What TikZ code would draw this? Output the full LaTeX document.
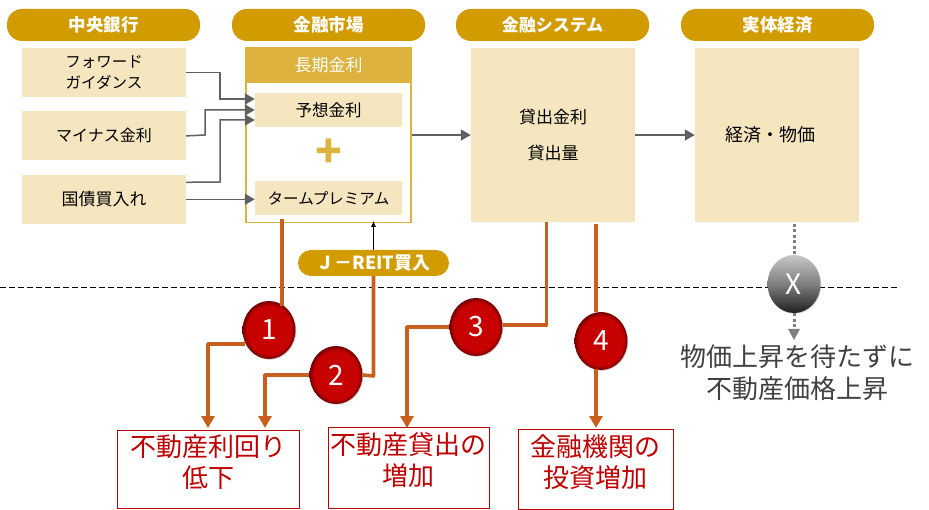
\documentclass[tikz,border=0pt]{standalone}
\usepackage{fontspec}
\setmainfont{Noto Sans CJK JP}
\usepackage{xcolor}
\usepackage{tikz}
\usetikzlibrary{shapes.geometric, arrows.meta, positioning, shadows}
\definecolor{pillgold}{HTML}{D29C00}
\definecolor{bandgold}{HTML}{DDB23F}
\definecolor{palegold}{HTML}{F5E6BF}
\definecolor{linegray}{HTML}{606060}
\definecolor{linkorange}{HTML}{C95F1C}
\definecolor{boxred}{HTML}{C00000}
\pgfdeclareradialshading{redglow}{\pgfpoint{0bp}{0bp}}{color(0bp)=(red!78!black); color(21bp)=(red!78!black); color(25bp)=(red!45!black); color(50bp)=(red!45!black)}

\begin{document}
\begin{tikzpicture}[x=1pt, y=-1pt,
    node distance=14pt and 10pt,
    pill/.style={fill=pillgold, rounded corners=15pt, minimum width=193pt, minimum height=32pt, inner sep=0pt, text=white, font=\fontsize{17.5}{17.5}\selectfont\bfseries},
    pale/.style={fill=palegold, minimum width=164pt, minimum height=49pt, inner sep=0pt, align=center, font=\fontsize{16}{21}\selectfont},
    inner/.style={fill=palegold, minimum width=147pt, minimum height=34pt, inner sep=0pt, font=\fontsize{16.5}{16.5}\selectfont},
    result/.style={draw=boxred, fill=white, line width=0.9pt, anchor=north west, inner sep=0pt, text=boxred},
    restext/.style={text=boxred, align=center, inner sep=0pt, font=\fontsize{26}{31}\selectfont},
    ball/.style={ellipse, minimum width=53pt, minimum height=58pt, inner sep=0pt, text=white, font=\fontsize{28}{28}\selectfont, drop shadow={shadow xshift=0.8pt, shadow yshift=-0.8pt, opacity=0.35}},
    redball/.style={ball, shading=redglow},
    grayball/.style={ball, top color=black!22, bottom color=black!88, middle color=black!50},
    arrow/.style={draw=linegray, line width=1.5pt, -{Triangle[length=10pt, width=11pt]}},
    link/.style={draw=linkorange, line width=3.6pt, line join=round},
    linkarrow/.style={link, -{Triangle[length=12pt, width=13pt]}},
    dots/.style={draw=black!50, line width=3pt, dash pattern=on 3pt off 2.5pt}
]
    \useasboundingbox (0,0) rectangle (929,510);

    % Column headers
    \node[pill] (bank) at (103.5,25) {中央銀行};
    \node[pill] (market) at (328.5,25) {金融市場};
    \node[pill, font=\fontsize{17}{17}\selectfont\bfseries] (system) at (552.5,25) {金融システム};
    \node[pill] (economy) at (777.5,25) {実体経済};

    % Policy tools
    \node[pale, font=\fontsize{15.5}{21}\selectfont] (guidance) at (104,72.5) {フォワード\\ガイダンス};
    \node[pale, below=14pt of guidance] (negative) {マイナス金利};
    \node[pale, below=14pt of negative, font=\fontsize{17}{17}\selectfont] (bonds) {国債買入れ};

    % Long term rate box
    \node[draw=bandgold, line width=1.6pt, fill=white, minimum width=165pt, minimum height=175pt, inner sep=0pt] (rate) at (328.5,135) {};
    \node[fill=bandgold, minimum width=166pt, minimum height=36pt, inner sep=0pt, text=white, font=\fontsize{17}{17}\selectfont] (band) at (328.5,65) {長期金利};
    \node[inner] (expected) at (328.5,110) {予想金利};
    \node[inner, font=\fontsize{15.5}{15.5}\selectfont] (premium) at (328.5,198) {タームプレミアム};
    \node[text=bandgold, inner sep=0pt, font=\fontsize{44}{44}\selectfont\bfseries] (plus) at (328.5,153) {+};

    % Large boxes
    \node[pale, minimum height=174pt, font=\fontsize{17}{21}\selectfont] (lending) at (553,135) {貸出金利\\[15pt]貸出量};
    \node[pale, minimum height=174pt, font=\fontsize{18}{21}\selectfont] (prices) at (777,135) {経済・物価\hspace{13pt}};

    % Dashed divider
    \draw[dashed, dash pattern=on 6pt off 3pt, line width=0.8pt] (0,287) coordinate (divl) -- (900,287) coordinate (divr);

    \node[pill, minimum width=151pt, minimum height=26pt, rounded corners=13pt, font=\fontsize{18}{18}\selectfont\bfseries] (jreit) at (373.5,263) {Ｊ－REIT買入};

    % Result boxes
    \node[result, minimum width=182pt, minimum height=78pt] (yield) at (117,430) {};
    \node[result, minimum width=161pt, minimum height=81pt] (loans) at (328,427) {};
    \node[result, minimum width=155pt, minimum height=80pt] (invest) at (518,429) {};
    \node[restext] (yieldtxt) at (208,462) {不動産利回り\\低下};
    \node[restext] (loanstxt) at (408.5,460.5) {不動産貸出の\\増加};
    \node[restext] (investtxt) at (595.5,462.5) {金融機関の\\投資増加};

    % Numbered balls
    \node[redball] (one) at (269,330) {1};
    \node[redball] (two) at (336,375) {2};
    \node[redball] (three) at (476,327) {3};
    \node[redball] (four) at (601,341) {4};
    \node[grayball] (cross) at (794,284) {X};
    \node[text=black!75, align=center, inner sep=0pt, font=\fontsize{26}{32}\selectfont] (note) at (797,373) {物価上昇を待たずに\\不動産価格上昇};

    % Gray flow arrows
    \draw[arrow] (guidance.east) -- (220,72.5) |- ([yshift=11pt]expected.west);
    \draw[arrow] (negative.east) -- (205,135) |- (expected.west);
    \draw[arrow] ([yshift=17pt]bonds.east) -- (220,182) |- ([yshift=-10pt]expected.west);
    \draw[arrow] (bonds.east) -- (bonds.east -| premium.west);
    \draw[arrow] (rate.east) -- (lending.west);
    \draw[arrow] (lending.east) -- (prices.west);
    \draw[-{Latex[length=6pt, width=5pt]}, line width=0.9pt] (jreit.north) -- (373.5,221);

    % Orange links
    \draw[link] (282,219) -- (282,306);
    \draw[linkarrow] (245,344) -- (208,344) -- (208,428);
    \draw[link] (jreit.south) -- (373.5,376) -- (two.east);
    \draw[linkarrow] (two.west) -- (265,375) -- (265,428);
    \draw[link] (lending.south -| 546.5,0) -- (546.5,325) -- (three.east |- 0,325);
    \draw[linkarrow] (three.west) -- (407,327) -- (407,428);
    \draw[link] (596,224) -- (596,312);
    \draw[linkarrow] (596,369) -- (596,428);

    % Blocked path
    \draw[dots] (794,224) -- (cross.north);
    \draw[dots] (cross.south) -- (794,329);
    \fill[black!50] (788,329) -- (800,329) -- (794,340) -- cycle;
\end{tikzpicture}
\end{document}
